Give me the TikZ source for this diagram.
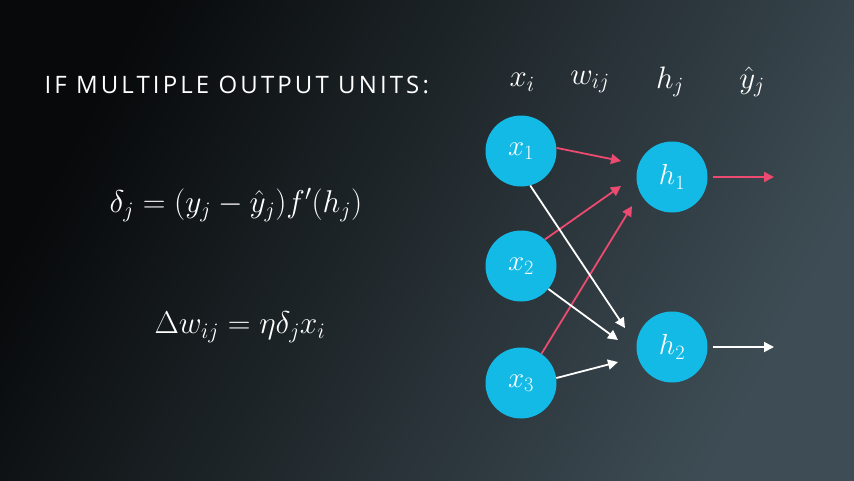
\RequirePackage{fix-cm}
\documentclass[tikz,border=0pt]{standalone}
\usepackage{fontspec}
\setsansfont{Open Sans}
\usetikzlibrary{arrows.meta}
\definecolor{nodecyan}{HTML}{14BAE6}
\definecolor{arrred}{HTML}{EC4A70}
\definecolor{bgdark}{HTML}{07090A}
\definecolor{bglight}{HTML}{3E4D55}
\tikzset{
  unit/.style={circle, fill=nodecyan, minimum size=71pt, inner sep=0pt, text=white, font=\fontsize{29}{31}\selectfont},
  lbl/.style={text=white, font=\fontsize{31}{33}\selectfont},
  eqn/.style={text=white, font=\fontsize{31.5}{35}\selectfont},
  redarr/.style={draw=arrred, line width=1.8pt, -{Triangle[length=10pt,width=10pt]}},
  whitearr/.style={draw=white, line width=1.8pt, -{Triangle[length=10pt,width=10pt]}},
}
\begin{document}
\begin{tikzpicture}[x=1pt,y=-1pt]
\useasboundingbox (0,0) rectangle (854,480);
\shade[left color=bgdark, right color=bglight, shading angle=62] (0,0) rectangle (854,480);

\node[text=white, anchor=west, font=\sffamily\fontsize{24}{26}\selectfont\addfontfeatures{LetterSpace=13}] (title) at (41,85) {IF MULTIPLE OUTPUT UNITS:};

\node[eqn] (eq1) at (236,205) {$\delta_j = (y_j - \hat{y}_j) f'(h_j)$};
\node[eqn] (eq2) at (240,327) {$\Delta w_{ij} = \eta \delta_j x_i$};

\node[lbl] (lx) at (522,82) {$x_i$};
\node[lbl] (lw) at (590,82) {$w_{ij}$};
\node[lbl] (lh) at (670,82) {$h_j$};
\node[lbl] (ly) at (752,82) {$\hat{y}_j$};

\node[unit] (x1) at (521,151) {$x_1$};
\node[unit] (x2) at (521,266) {$x_2$};
\node[unit] (x3) at (521,383) {$x_3$};
\node[unit] (h1) at (672,177) {$h_1$};
\node[unit] (h2) at (672,347) {$h_2$};

\coordinate (e11) at (621,161);
\coordinate (e21) at (621,186);
\coordinate (e31) at (632,206);
\coordinate (e12) at (625,328);
\coordinate (e22) at (618,340);
\coordinate (e32) at (618,362);
\coordinate (o1) at (774,177);
\coordinate (o2) at (774,347);

\draw[redarr] (x1.5) -- (e11);
\draw[redarr] (x2.48) -- (e21);
\draw[redarr] (x3.55) -- (e31);
\draw[whitearr] (x1.-75) -- (e12);
\draw[whitearr] (x2.-40) -- (e22);
\draw[whitearr] (x3.8) -- (e32);
\draw[redarr] ([xshift=5pt]h1.east) -- (o1);
\draw[whitearr] ([xshift=5pt]h2.east) -- (o2);
\end{tikzpicture}
\end{document}
